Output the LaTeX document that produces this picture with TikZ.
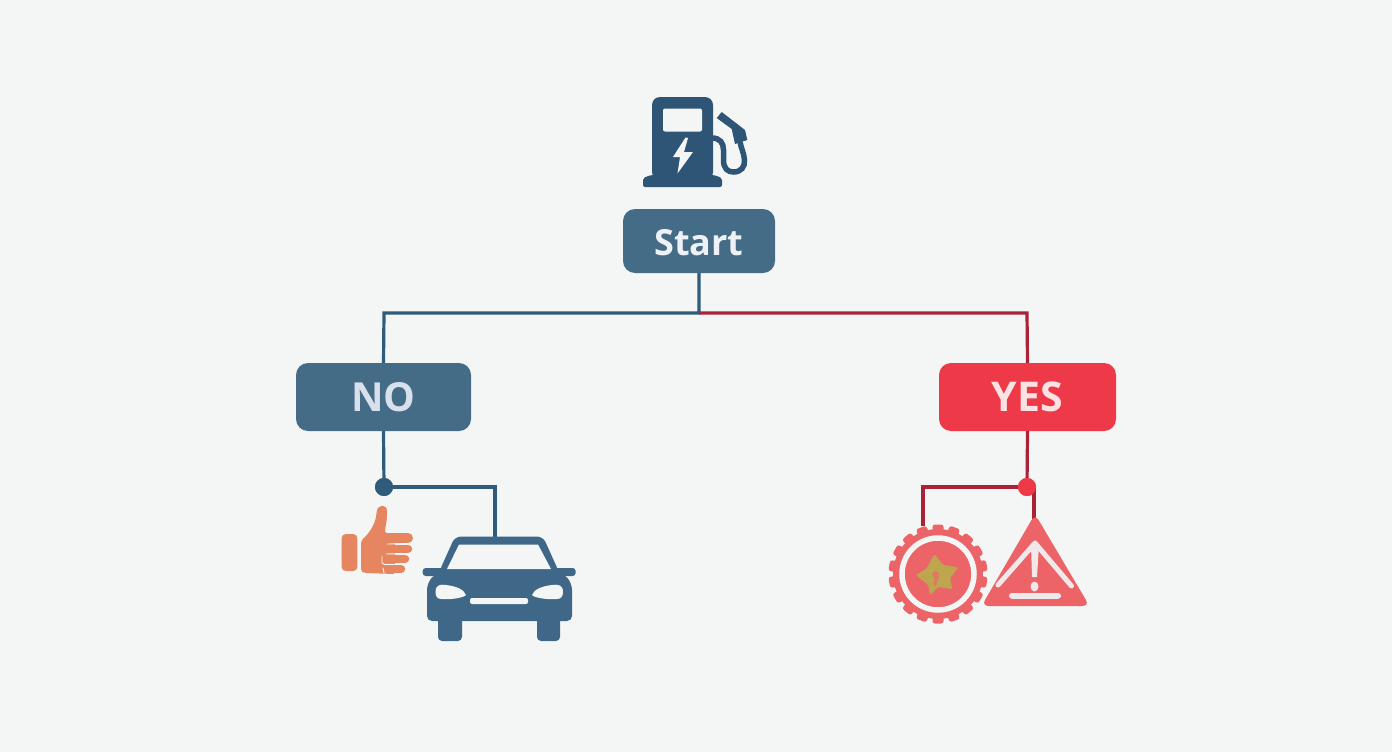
\documentclass[tikz,border=0pt]{standalone}
\usepackage{fontspec}
\setmainfont{Open Sans}
\definecolor{bgc}{HTML}{F4F6F5}
\definecolor{bluebox}{HTML}{456C87}
\definecolor{blueline}{HTML}{2F5B7C}
\definecolor{pumpblue}{HTML}{2F5576}
\definecolor{carblue}{HTML}{3F6787}
\definecolor{redbox}{HTML}{EE3A48}
\definecolor{redline}{HTML}{A92235}
\definecolor{iconred}{HTML}{EC6468}
\definecolor{thumb}{HTML}{E58660}
\definecolor{starc}{HTML}{BDA64E}
\definecolor{txtstart}{HTML}{EEF2F6}
\definecolor{txtno}{HTML}{D8E0EC}
\definecolor{txtyes}{HTML}{FBE3E3}
\definecolor{iconwhite}{HTML}{F0E8EA}
\tikzset{
  decision/.style={rounded corners=12pt,inner sep=0pt,font=\bfseries},
  bluewire/.style={draw=blueline,line width=3.2pt},
  redwire/.style={draw=redline,line width=3.2pt},
  junction/.style={circle,minimum size=18pt,inner sep=0pt},
  finger/.style={draw=thumb,line cap=round},
  sep/.style={draw=bgc,line width=.9pt,line cap=round},
}
\begin{document}
\begin{tikzpicture}[x=1pt,y=-1pt]
\useasboundingbox (0,0) rectangle (1392,752);
\fill[bgc] (0,0) rectangle (1392,752);
% connectors first
\coordinate (fork) at (699,313);
\coordinate (leftc) at (384,313);
\coordinate (rightc) at (1027,313);
\coordinate (nob) at (495,487);
\coordinate (yesb) at (923,487);
\coordinate (cartop) at (495,538);
\coordinate (geartop) at (923,526);
\coordinate (tritop) at (1034,520);
\coordinate (tridrop) at (1034,487);
\node[decision,fill=bluebox,minimum width=152pt,minimum height=64pt,text=txtstart,font=\bfseries\fontsize{36}{40}\selectfont] (start) at (699,241) {\raisebox{-2pt}[\height][\depth]{Start}};
\node[decision,fill=bluebox,minimum width=175pt,minimum height=68pt,text=txtno,font=\bfseries\fontsize{40}{44}\selectfont] (no) at (383.5,397) {NO};
\node[decision,fill=redbox,minimum width=177pt,minimum height=68pt,text=txtyes,font=\bfseries\fontsize{41}{44}\selectfont] (yes) at (1027.5,397) {YES};
\node[junction,fill=blueline] (dotno) at (384,487) {};
\node[junction,fill=redbox] (dotyes) at (1027,487) {};
\draw[bluewire] (start.south) -- (fork) -- (leftc) -- (no.north);
\draw[redwire] (fork) -- (rightc) -- (yes.north);
\draw[bluewire] (no.south) -- (dotno);
\draw[bluewire] (dotno) -- (nob) -- (cartop);
\draw[redwire] (yes.south) -- (dotyes);
\draw[redwire] (dotyes) -- (yesb) -- (geartop);
\draw[redwire] (tridrop) -- (tritop);
\fill[blueline] (dotno) circle[radius=9];
\fill[redbox] (dotyes) circle[radius=9];
% fuel pump
\fill[pumpblue,rounded corners=8pt] (652,180) -- (652,97) -- (713,97) -- (713,180) -- cycle;
\fill[pumpblue,rounded corners=2pt] (643,187) -- (643,178) -- (651,175) -- (714,175) -- (722,178) -- (722,187) -- cycle;
\fill[bgc,rounded corners=2pt] (663,108.5) rectangle (702,131.5);
\fill[bgc] (685.5,137.5) -- (673,157) -- (680,157) -- (677.5,173.5) -- (693,152) -- (684,152) -- (688,138) -- cycle;
\draw[pumpblue,line width=5.5pt] (712,138) .. controls (720,138) and (723.5,143) .. (723.5,150) -- (723.5,160) .. controls (723.5,169) and (728,172) .. (733.5,172) .. controls (741,172) and (745,167) .. (744.5,160) .. controls (744,153) and (741,148) .. (740,142);
\fill[pumpblue] (716.7,118) -- (721.7,112) -- (745,130) -- (747.3,140) -- (735,144) -- (731.7,129) -- cycle;
% thumb
\fill[thumb,rounded corners=4pt] (341.7,534) rectangle (357.3,571);
\fill[thumb,rounded corners=2pt] (361,571) -- (361,541) .. controls (368,534) and (375,526) .. (376.5,513) .. controls (378,504) and (387,504) .. (387,513) .. controls (387,522) and (385,528) .. (385,533) -- (395,533) -- (395,574) -- (364,573) -- cycle;
\draw[finger,line width=10pt] (392,538) -- (408,538);
\draw[finger,line width=8.5pt] (392,549) -- (408,549);
\draw[finger,line width=8.5pt] (392,559) -- (405,559);
\draw[finger,line width=8.5pt] (392,569) -- (401,569);
\draw[sep] (387,544) -- (410,543.5);
\draw[sep] (386,554) -- (409,553.5);
\draw[sep] (382,556) -- (382,563) -- (384,564);
\draw[sep] (384,564) -- (407,564);
\draw[sep] (383,568) -- (384,573);
% car
\fill[carblue,rounded corners=6pt] (455,536.5) -- (543,536.5) -- (559,572) -- (439,572) -- cycle;
\fill[carblue,rounded corners=3pt] (422.7,568) rectangle (575.6,576);
\fill[carblue,rounded corners=5pt] (427,621) -- (427,585) -- (434,574) -- (565,574) -- (572,585) -- (572,621) -- cycle;
\fill[carblue,rounded corners=4pt] (438,612) rectangle (462,641);
\fill[carblue,rounded corners=4pt] (537,612) rectangle (560,641);
\fill[bgc] (447,569) -- (459,544.5) -- (538,544.5) -- (551,569) -- cycle;
\fill[bgc] (435.5,592) .. controls (435.5,585) and (440,584) .. (446,585) .. controls (455,586) and (464,589) .. (466,595) .. controls (464,598) and (448,600) .. (441,599) .. controls (437,599) and (435.5,596) .. (435.5,592) -- cycle;
\fill[bgc] (563,592) .. controls (563,585) and (558,584) .. (552,585) .. controls (543,586) and (534,589) .. (532,595) .. controls (534,598) and (550,600) .. (557,599) .. controls (561,599) and (563,596) .. (563,592) -- cycle;
\fill[bgc,rounded corners=2pt] (470,598) rectangle (528,604);
% gear
\fill[iconred] (938,574) circle[radius=45];
\foreach \a in {0,20,...,340}{
  \fill[iconred,rotate around={\a:(938,574)},rounded corners=2.5pt] (932.5,524.5) rectangle (943.5,532);
}
\draw[bgc,line width=5.5pt] (938,574) circle[radius=36];
\fill[starc,rounded corners=1.5pt] (934.3,554) -- (943.3,565) -- (958.3,567.3) -- (950,578.3) -- (952.3,589.3) -- (938.3,586.7) -- (930,595) -- (928.3,585) -- (915.7,575) -- (926.7,568.3) -- cycle;
\fill[iconred!65!starc] (933,572) .. controls (936,569) and (942,573) .. (938,579) -- (936,586) -- (933.5,585) -- (934.5,578) .. controls (932,577) and (931.5,574) .. (933,572) -- cycle;
% warning triangle
\fill[iconred,rounded corners=7pt] (1035,514) -- (1089.5,606) -- (981.5,606) -- cycle;
\draw[iconwhite,line width=5pt,line cap=round,line join=round] (998,585) -- (1035,543) -- (1071.5,586);
\fill[iconwhite] (1031,545) -- (1039,545) -- (1037,577) -- (1032,577) -- cycle;
\fill[iconwhite] (1034.5,586.5) ellipse[x radius=4,y radius=5];
\draw[iconwhite,line width=6pt,line cap=round] (1012,595.5) -- (1058,595.5);
\end{tikzpicture}
\end{document}
